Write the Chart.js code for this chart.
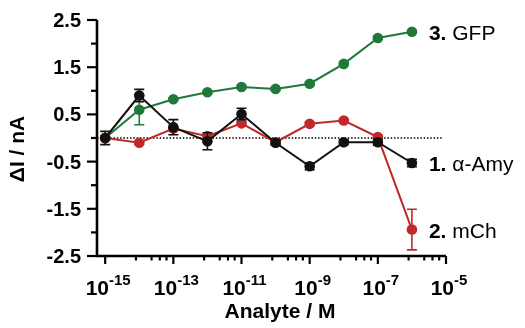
<!DOCTYPE html>
<html>
<head>
<meta charset="utf-8">
<script src="https://cdn.jsdelivr.net/npm/chart.js@4.4.0/dist/chart.umd.min.js"></script>
<style>
body{margin:0;background:#fff;}
#grafico{width:525px;height:328px;}
</style>
</head>
<body>
<div id="grafico"><canvas id="myChart"></canvas></div>
<script>
// DATOS
let concentraciones = [1e-15, 1e-14, 1e-13, 1e-12, 1e-11, 1e-10, 1e-9, 1e-8, 1e-7, 1e-6];

let amyValores = [0.0, 0.9, 0.23, -0.07, 0.51, -0.1, -0.6, -0.09, -0.09, -0.53];
let amyErrores = [0.14, 0.13, 0.16, 0.18, 0.12, 0.05, 0.07, 0.05, 0.06, 0.08];

let mchValores = [0.0, -0.1, 0.2, 0.04, 0.31, -0.09, 0.3, 0.37, 0.02, -1.94];
let mchErrores = [0.04, 0.03, 0.04, 0.04, 0.04, 0.03, 0.03, 0.03, 0.03, 0.43];

let gfpValores = [0.0, 0.6, 0.82, 0.97, 1.08, 1.04, 1.15, 1.57, 2.12, 2.25];
let gfpErrores = [0.03, 0.32, 0.03, 0.03, 0.03, 0.03, 0.03, 0.03, 0.03, 0.03];

let numeros = ["1.", "2.", "3."];
let nombres = ["α-Amy", "mCh", "GFP"];
let colores = ["#111111", "#c0282a", "#1f7a3a"];

// ticks
let yTicksMayores = [-2.5, -1.5, -0.5, 0.5, 1.5, 2.5];
let yTicksMenores = [-2, -1, 0, 1, 2];
let xExponentes = [-15, -13, -11, -9, -7, -5];
let factoresMenores = [8, 23, 40, 63]; // marcas pequeñas dentro de cada 2 decadas

const fuente = '"Liberation Sans", Arial, sans-serif';

function puntos(valores){
	return concentraciones.map((c, i) => ({x: c, y: valores[i]}));
}

//barras de error antes de cada serie
const barrasError = {
	id: 'barrasError',
	beforeDatasetDraw(chart, args){
		let ds = chart.data.datasets[args.index];
		let y = chart.scales.y;
		let ctx = chart.ctx;
		ctx.save();
		ctx.strokeStyle = ds.borderColor;
		ctx.lineWidth = 1.6;
		args.meta.data.forEach((pt, i) => {
			let v = ds.data[i].y;
			let e = ds.errores[i];
			let arriba = y.getPixelForValue(v + e);
			let abajo = y.getPixelForValue(v - e);
			ctx.beginPath();
			ctx.moveTo(pt.x, arriba); ctx.lineTo(pt.x, abajo);
			ctx.moveTo(pt.x - 5, arriba); ctx.lineTo(pt.x + 5, arriba);
			ctx.moveTo(pt.x - 5, abajo); ctx.lineTo(pt.x + 5, abajo);
			ctx.stroke();
		});
		ctx.restore();
	}
};

//ejes, marcas y linea de cero
const ejes = {
	id: 'ejes',
	beforeDatasetsDraw(chart){
		let ctx = chart.ctx;
		let sx = chart.scales.x;
		let sy = chart.scales.y;
		let area = chart.chartArea;
		ctx.save();

		// linea punteada en 0
		let y0 = sy.getPixelForValue(0);
		ctx.strokeStyle = "#000";
		ctx.lineWidth = 1.5;
		ctx.setLineDash([1.5, 1.8]);
		ctx.beginPath();
		ctx.moveTo(area.left, y0);
		ctx.lineTo(area.right - 3, y0);
		ctx.stroke();
		ctx.setLineDash([]);

		// eje y
		ctx.lineWidth = 2.6;
		ctx.beginPath();
		ctx.moveTo(area.left, area.top);
		ctx.lineTo(area.left, area.bottom);
		ctx.lineTo(area.right, area.bottom);
		ctx.stroke();

		ctx.lineWidth = 2.2;
		yTicksMayores.forEach(v => {
			let p = sy.getPixelForValue(v);
			ctx.beginPath(); ctx.moveTo(area.left - 10, p); ctx.lineTo(area.left, p); ctx.stroke();
		});
		yTicksMenores.forEach(v => {
			let p = sy.getPixelForValue(v);
			ctx.beginPath(); ctx.moveTo(area.left - 6, p); ctx.lineTo(area.left, p); ctx.stroke();
		});

		// eje x
		xExponentes.forEach((ex, k) => {
			let p = sx.getPixelForValue(Math.pow(10, ex));
			ctx.beginPath(); ctx.moveTo(p, area.bottom); ctx.lineTo(p, area.bottom + 8); ctx.stroke();
			if(k < xExponentes.length - 1){
				factoresMenores.forEach(f => {
					let q = sx.getPixelForValue(f * Math.pow(10, ex));
					ctx.beginPath(); ctx.moveTo(q, area.bottom); ctx.lineTo(q, area.bottom + 4.5); ctx.stroke();
				});
			}
		});

		// etiquetas eje y
		ctx.fillStyle = "#000";
		ctx.font = "bold 20px " + fuente;
		ctx.textAlign = "right";
		ctx.textBaseline = "alphabetic";
		yTicksMayores.forEach(v => {
			let p = sy.getPixelForValue(v);
			ctx.fillText(v.toFixed(1), area.left - 16, p + 7);
		});

		// etiquetas eje x (10 con exponente)
		ctx.textAlign = "left";
		xExponentes.forEach(ex => {
			let p = sx.getPixelForValue(Math.pow(10, ex));
			ctx.font = "bold 21px " + fuente;
			let base = "10";
			let wb = ctx.measureText(base).width;
			ctx.font = "bold 15px " + fuente;
			let exp = String(ex);
			let we = ctx.measureText(exp).width;
			let inicio = p + 3 - (wb + we) / 2;
			ctx.font = "bold 21px " + fuente;
			ctx.fillText(base, inicio, 295);
			ctx.font = "bold 15px " + fuente;
			ctx.fillText(exp, inicio + wb, 285);
		});
		ctx.restore();
	},
	afterDatasetsDraw(chart){
		let ctx = chart.ctx;
		ctx.save();
		ctx.fillStyle = "#000";
		ctx.textBaseline = "alphabetic";
		ctx.textAlign = "left";
		chart.data.datasets.forEach((ds, i) => {
			let meta = chart.getDatasetMeta(i);
			let ultimo = meta.data[meta.data.length - 1];
			let x = ultimo.x + 17;
			let y = ultimo.y + 8;
			ctx.font = "bold 21px " + fuente;
			ctx.fillText(ds.numero, x, y);
			let w = ctx.measureText(ds.numero + " ").width;
			ctx.font = "21px " + fuente;
			ctx.fillText(ds.nombre, x + w, y);
		});

		// titulos de ejes
		ctx.font = "bold 21px " + fuente;
		ctx.textAlign = "center";
		ctx.fillText("Analyte / M", 280, 318);
		ctx.translate(24, 149);
		ctx.rotate(-Math.PI / 2);
		ctx.fillText("ΔI / nA", 0, 0);
		ctx.restore();
	}
};

let series = [
	{valores: amyValores, errores: amyErrores},
	{valores: mchValores, errores: mchErrores},
	{valores: gfpValores, errores: gfpErrores}
];

const data = {
	datasets: series.map((s, i) => ({
		data: puntos(s.valores),
		errores: s.errores,
		numero: numeros[i],
		nombre: nombres[i],
		borderColor: colores[i],
		backgroundColor: colores[i],
		borderWidth: 2,
		pointRadius: 5.3,
		pointBorderWidth: 0,
		pointBackgroundColor: colores[i],
		tension: 0,
		clip: false
	}))
};

const config = {
	type: 'line',
	data: data,
	options: {
		responsive: true,
		maintainAspectRatio: false,
		animation: false,
		layout: {padding: {left: 97, right: 79, top: 20, bottom: 72}},
		plugins: {legend: {display: false}, tooltip: {enabled: false}},
		scales: {
			x: {type: 'logarithmic', display: false, bounds: 'data', min: Math.pow(10, -15.24), max: 1e-5},
			y: {type: 'linear', display: false, min: -2.5, max: 2.5}
		}
	},
	plugins: [barrasError, ejes]
};

const myChart = new Chart(document.getElementById('myChart'), config);
</script>
</body>
</html>
